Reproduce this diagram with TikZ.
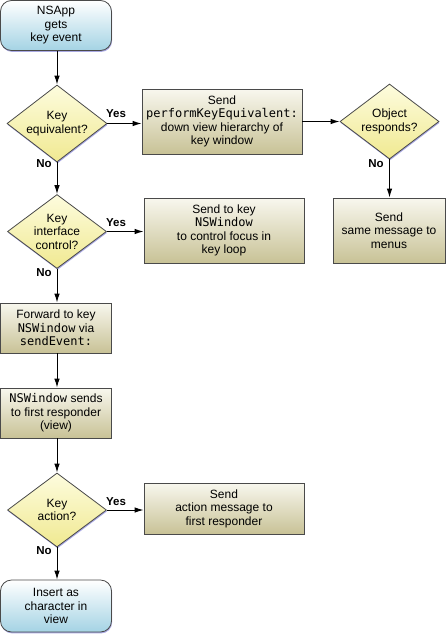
\documentclass[tikz,border=0pt]{standalone}
\usepackage{fontspec}
\setmainfont{Liberation Sans}
\setmonofont{DejaVu Sans Mono}
\usetikzlibrary{shapes.geometric,arrows.meta,shadows}
\definecolor{edge}{HTML}{4A4A4A}
\definecolor{termbot}{RGB}{164,211,228}
\definecolor{procbot}{RGB}{200,194,150}
\definecolor{proctop}{RGB}{248,247,238}
\definecolor{diatop}{RGB}{253,252,222}
\definecolor{diabot}{RGB}{240,233,145}
\begin{document}
\begin{tikzpicture}[x=1pt,y=-1pt,
  every node/.style={font=\fontsize{12}{13.5}\selectfont, align=center, inner sep=0pt},
  shad/.style={drop shadow={shadow xshift=0.6pt, shadow yshift=-1.4pt, fill=blue!50!gray, opacity=0.45}},
  term/.style={draw=edge, line width=0.8pt, rounded corners=11pt, top color=white, bottom color=termbot, shad},
  proc/.style={draw=edge, line width=0.8pt, top color=proctop, bottom color=procbot, shad},
  dia/.style={shape=diamond, draw=edge, line width=0.8pt, top color=diatop, bottom color=diabot, shad},
  lbl/.style={font=\fontsize{11.5}{13}\selectfont\bfseries},
  arr/.style={-{Latex[length=9pt,width=5.5pt]}, line width=1pt, black}
]
\useasboundingbox (0,0) rectangle (446,634);

% shapes
\node[term, minimum width=111pt, minimum height=50pt] (start) at (56,25.5) {NSApp\\gets\\key event};
\node[dia, minimum width=100pt, minimum height=77pt] (d1) at (57,123.5) {};
\node (d1t) at (d1) {Key\\equivalent?};
\node[proc, minimum width=160pt, minimum height=65pt] (b1) at (222,121.5) {Send\\\texttt{performKeyEquivalent:}\\down view hierarchy of\\key window};
\node[dia, minimum width=99pt, minimum height=75pt] (d2) at (389.5,121.5) {};
\node (d2t) at (d2) {Object\\responds?};
\node[proc, minimum width=112pt, minimum height=65pt] (bm) at (389,230.5) {Send\\same message to\\menus};

\node[dia, minimum width=99pt, minimum height=74pt] (d3) at (57,231.5) {};
\node (d3t) at (d3) {Key\\interface\\control?};
\node[proc, minimum width=160pt, minimum height=65pt] (b2) at (224,230.5) {Send to key\\\texttt{NSWindow}\\to control focus in\\key loop};

\node[proc, minimum width=111pt, minimum height=50pt] (b3) at (56,328) {Forward to key\\\texttt{NSWindow} via\\\texttt{sendEvent:}};
\node[proc, minimum width=111pt, minimum height=50pt] (b4) at (56,413) {\texttt{NSWindow} sends\\to first responder\\(view)};

\node[dia, minimum width=99pt, minimum height=74pt] (d4) at (57,510) {};
\node (d4t) at (d4) {Key\\action?};
\node[proc, minimum width=160pt, minimum height=51pt] (b5) at (224,508.5) {Send\\action message to\\first responder};

\node[term, minimum width=111pt, minimum height=52pt] (end) at (56,606) {Insert as\\character in\\view};

% connectors
\draw[arr] (start.south -| d1.north) -- (d1.north);
\draw[arr] (d1.east) -- (b1.west |- d1.east);
\draw[arr] (b1.east |- d2.west) -- (d2.west);
\draw[arr] (d2.south) -- (bm.north -| d2.south);
\draw[arr] (d1.south) -- (d3.north);
\draw[arr] (d3.east) -- (b2.west |- d3.east);
\draw[arr] (d3.south) -- (b3.north -| d3.south);
\draw[arr] (b3.south -| d3.south) -- (b4.north -| d3.south);
\draw[arr] (b4.south -| d4.north) -- (d4.north);
\draw[arr] (d4.east) -- (b5.west |- d4.east);
\draw[arr] (d4.south) -- (end.north -| d4.south);

% labels
\node[lbl] (y1) at (116,114) {Yes};
\node[lbl] (n1) at (44,164) {No};
\node[lbl] (n2) at (376,164) {No};
\node[lbl] (y3) at (116,223) {Yes};
\node[lbl] (n3) at (44,273) {No};
\node[lbl] (y4) at (116,502) {Yes};
\node[lbl] (n4) at (44,551) {No};
\end{tikzpicture}
\end{document}
